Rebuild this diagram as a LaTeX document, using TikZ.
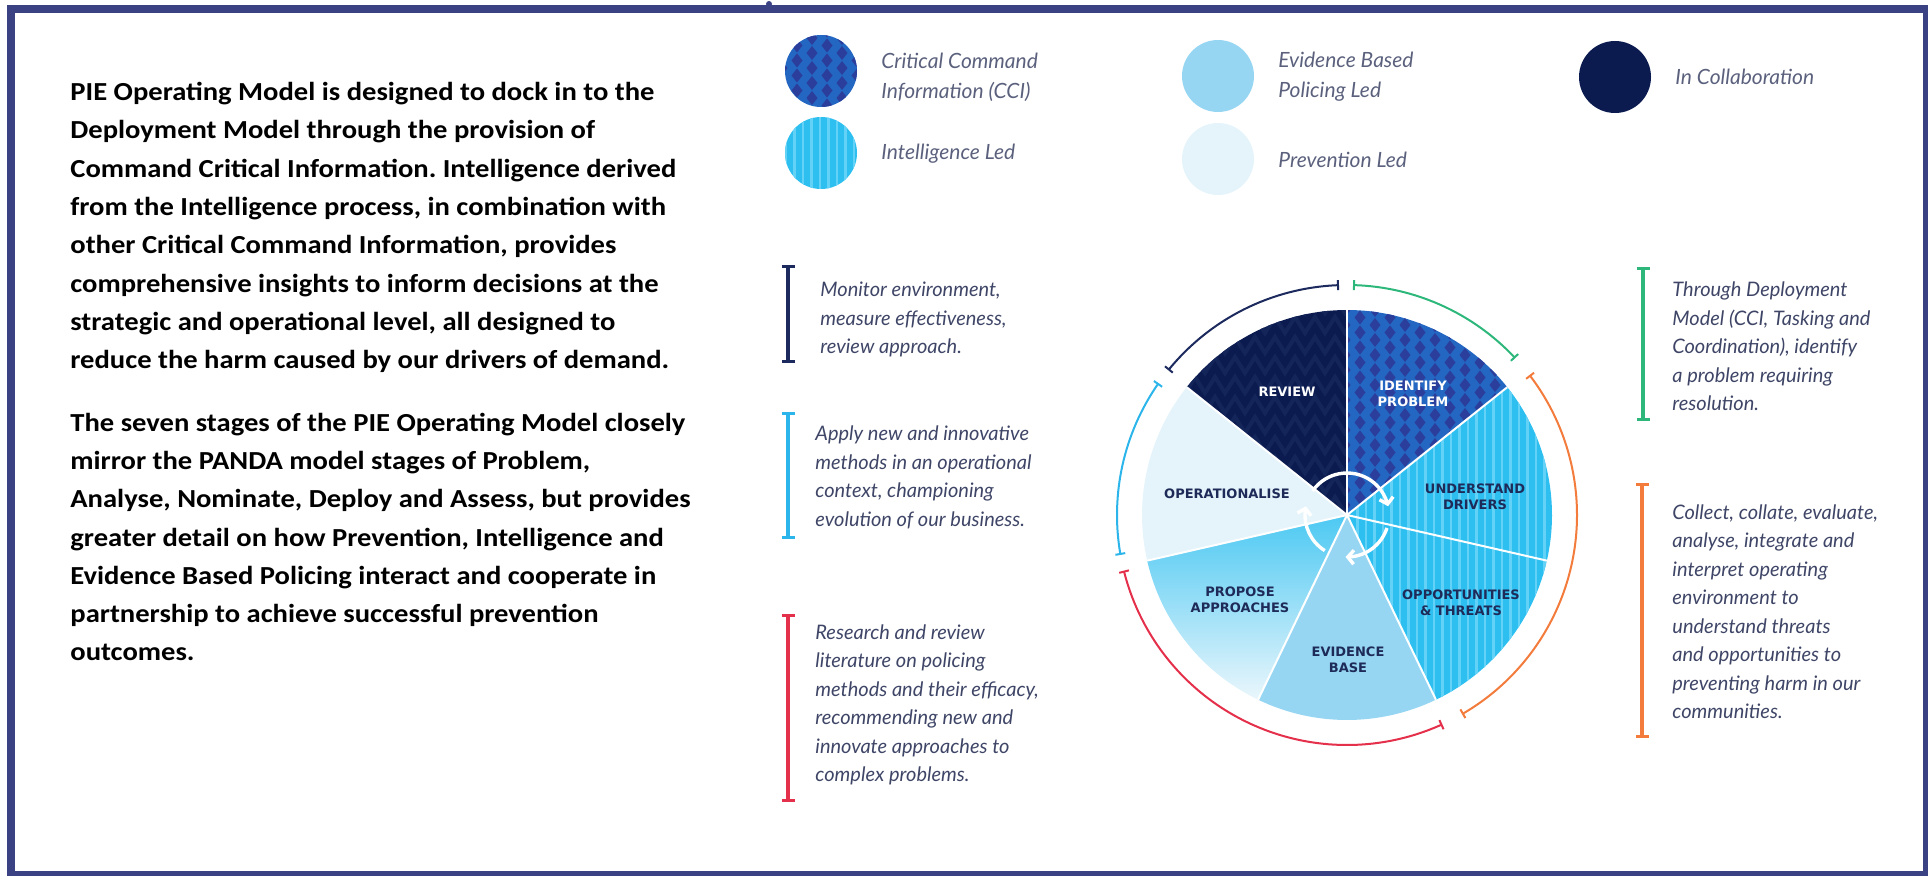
\documentclass[tikz,border=0pt]{standalone}
\usepackage{fontspec}
\setmainfont{Carlito}[FakeStretch=1.1]
\newfontfamily\sidefont{Lato}
\newfontfamily\stagefont{DejaVu Sans}
\usetikzlibrary{arrows.meta,bending,decorations.pathmorphing}
\frenchspacing

\definecolor{framecol}{RGB}{59,66,132}
\definecolor{navyc}{RGB}{11,27,79}
\definecolor{reviewtex}{RGB}{20,37,90}
\definecolor{ccibase}{RGB}{35,103,194}
\definecolor{ccidark}{RGB}{44,62,156}
\definecolor{intelbase}{RGB}{45,191,240}
\definecolor{intelstripe}{RGB}{100,209,246}
\definecolor{evid}{RGB}{150,214,243}
\definecolor{prev}{RGB}{229,244,251}
\definecolor{sidegray}{RGB}{62,69,102}
\definecolor{labnavy}{RGB}{30,42,88}
\definecolor{ringnavy}{RGB}{28,42,94}
\definecolor{ringgreen}{RGB}{45,183,123}
\definecolor{ringorange}{RGB}{243,123,59}
\definecolor{ringred}{RGB}{229,48,76}
\definecolor{ringcyan}{RGB}{43,181,234}

% diamond grid of the CCI colour
\newcommand{\ccidiamonds}[3]{%
  \foreach \i in {0,...,#3}{%
    \foreach \j in {0,...,#3}{%
      \pgfmathsetmacro{\px}{#1+15*\i}%
      \pgfmathsetmacro{\py}{#2+15*\j+7.5*mod(\i,2)}%
      \fill[ccidark] (\px-5.5,\py) -- (\px,\py+7) -- (\px+5.5,\py) -- (\px,\py-7) -- cycle;
    }}}
% vertical stripes of the intelligence colour
\newcommand{\intelstripes}[4]{%
  \foreach \k in {0,...,#4}
    \draw[intelstripe, line width=1.4pt] (#1+8.5*\k,#2) -- (#1+8.5*\k,#3);}

\begin{document}
\begin{tikzpicture}[x=0.5pt, y=0.5pt]
    \tikzset{
        bodytext/.style = {anchor=west, align=left, inner sep=0pt, font=\bfseries\fontsize{13}{19.15}\selectfont},
        sidetext/.style = {anchor=west, align=left, inner sep=0pt, text=sidegray, font=\sidefont\itshape\fontsize{10}{14.25}\selectfont},
        legtext/.style = {anchor=west, align=left, inner sep=0pt, text=sidegray!85, font=\sidefont\itshape\fontsize{10.5}{15}\selectfont},
        legdot/.style = {circle, inner sep=0pt, minimum size=36pt},
        stagelabel/.style = {align=center, inner sep=0pt, font=\stagefont\bfseries\fontsize{6.5}{8}\selectfont},
        bracket/.style = {line width=1.6pt, {Bar[width=6.5pt]}-{Bar[width=6.5pt]}},
        ring/.style = {line width=1pt, {Bar[width=5pt]}-{Bar[width=5pt]}},
        turn/.style = {white, line width=1.7pt, -{Straight Barb[length=3pt,width=7pt]}},
        sep/.style = {white, line width=1pt},
    }
    \useasboundingbox (0,0) rectangle (1928,875);
    %
    \draw[framecol, line width=3.75pt] (11,0.5) rectangle (1927,866);
    \fill[framecol] (769,871) circle[radius=3];
    %
    \node[bodytext] (intro) at (70,647.5) {PIE Operating Model is designed to dock in to the\\
        Deployment Model through the provision of\\
        Command Critical Information. Intelligence derived\\
        from the Intelligence process, in combination with\\
        other Critical Command Information, provides\\
        comprehensive insights to inform decisions at the\\
        strategic and operational level, all designed to\\
        reduce the harm caused by our drivers of demand.};
    \node[bodytext] (stages) at (70,338) {The seven stages of the PIE Operating Model closely\\
        mirror the PANDA model stages of Problem,\\
        Analyse, Nominate, Deploy and Assess, but provides\\
        greater detail on how Prevention, Intelligence and\\
        Evidence Based Policing interact and cooperate in\\
        partnership to achieve successful prevention\\
        outcomes.};
    %
    % legend
    \begin{scope}
        \clip (821,804) circle[radius=36];
        \fill[ccibase] (780,760) rectangle (860,850);
        \ccidiamonds{782}{762}{5}
    \end{scope}
    \begin{scope}
        \clip (821,722) circle[radius=36];
        \fill[intelbase] (780,680) rectangle (860,760);
        \intelstripes{786}{680}{760}{9}
    \end{scope}
    \node[legdot, fill=evid] (dotevid) at (1218,799) {};
    \node[legdot, fill=prev] (dotprev) at (1218,716) {};
    \node[legdot, fill=navyc] (dotcollab) at (1615,798) {};
    \node[legtext] (legcci) at (881,798) {Critical Command\\Information (CCI)};
    \node[legtext] (legintel) at (881,721) {Intelligence Led};
    \node[legtext] (legevid) at (1278,798.5) {Evidence Based\\Policing Led};
    \node[legtext] (legprev) at (1278,715) {Prevention Led};
    \node[legtext] (legcollab) at (1675,798) {In Collaboration};
    %
    % pie of the seven stages
    \coordinate (c) at (1347,360);
    \begin{scope}
        \clip (c) -- ++(90:205) arc[start angle=90, end angle=141.43, radius=205] -- cycle;
        \fill[navyc] (1130,350) rectangle (1350,570);
        \foreach \r in {0,...,10}
            \draw[reviewtex, line width=2pt, decorate, decoration={zigzag, segment length=10pt, amplitude=4pt}] (1130,370+20*\r) -- (1350,370+20*\r);
    \end{scope}
    \begin{scope}
        \clip (c) -- ++(38.57:205) arc[start angle=38.57, end angle=90, radius=205] -- cycle;
        \fill[ccibase] (1340,350) rectangle (1560,570);
        \ccidiamonds{1345}{355}{14}
    \end{scope}
    \begin{scope}
        \clip (c) -- ++(-64.29:205) arc[start angle=-64.29, end angle=38.57, radius=205] -- cycle;
        \fill[intelbase] (1340,150) rectangle (1560,500);
        \intelstripes{1349}{150}{500}{24}
    \end{scope}
    \fill[evid] (c) -- ++(-115.71:205) arc[start angle=-115.71, end angle=-64.29, radius=205] -- cycle;
    \shade[top color=intelbase!85!white, middle color=evid!60!white, bottom color=prev!80!white]
        (c) -- ++(-167.14:205) arc[start angle=-167.14, end angle=-115.71, radius=205] -- cycle;
    \fill[prev] (c) -- ++(141.43:205) arc[start angle=141.43, end angle=192.86, radius=205] -- cycle;
    \foreach \a in {90,38.57,-12.86,-64.29,-115.71,-167.14,141.43}
        \draw[sep] (c) -- ++(\a:205);
    %
    \node[stagelabel, text=white] (lreview) at (1287,483) {REVIEW};
    \node[stagelabel, text=white] (lidentify) at (1413,481) {IDENTIFY\\PROBLEM};
    \node[stagelabel, text=labnavy] (ldrivers) at (1475,378) {UNDERSTAND\\DRIVERS};
    \node[stagelabel, text=labnavy] (lthreats) at (1461,272) {OPPORTUNITIES\\\& THREATS};
    \node[stagelabel, text=labnavy] (levidence) at (1348,215) {EVIDENCE\\BASE};
    \node[stagelabel, text=labnavy] (lpropose) at (1240,275) {PROPOSE\\APPROACHES};
    \node[stagelabel, text=labnavy] (loperational) at (1227,381) {OPERATIONALISE};
    %
    \draw[turn] ([shift={(145:42)}]c) arc[start angle=145, end angle=12, radius=42];
    \draw[turn] ([shift={(-18:42)}]c) arc[start angle=-18, end angle=-92, radius=42];
    \draw[turn] ([shift={(-122:42)}]c) arc[start angle=-122, end angle=-192, radius=42];
    %
    \draw[ring, ringnavy] ([shift={(92:230)}]c) arc[start angle=92, end angle=141, radius=230];
    \draw[ring, ringgreen] ([shift={(43:230)}]c) arc[start angle=43, end angle=88.5, radius=230];
    \draw[ring, ringorange] ([shift={(-60:230)}]c) arc[start angle=-60, end angle=37.5, radius=230];
    \draw[ring, ringred] ([shift={(194:230)}]c) arc[start angle=194, end angle=294.5, radius=230];
    \draw[ring, ringcyan] ([shift={(145:230)}]c) arc[start angle=145, end angle=190, radius=230];
    %
    % brackets beside the texts
    \coordinate (navytop) at (788,610);
    \coordinate (navybot) at (788,512);
    \coordinate (cyantop) at (788,463);
    \coordinate (cyanbot) at (788,336);
    \coordinate (redtop) at (788,261);
    \coordinate (redbot) at (788,73);
    \coordinate (greentop) at (1643,608);
    \coordinate (greenbot) at (1643,454);
    \coordinate (orangetop) at (1642,392);
    \coordinate (orangebot) at (1642,137);
    \draw[bracket, ringnavy] (navytop) -- (navybot);
    \draw[bracket, ringcyan] (cyantop) -- (cyanbot);
    \draw[bracket, ringred] (redtop) -- (redbot);
    \draw[bracket, ringgreen] (greentop) -- (greenbot);
    \draw[bracket, ringorange] (orangetop) -- (orangebot);
    %
    \node[sidetext] (monitor) at (820,555.5) {Monitor environment,\\measure effectiveness,\\review approach.};
    \node[sidetext] (apply) at (815,397.5) {Apply new and innovative\\methods in an operational\\context, championing\\evolution of our business.};
    \node[sidetext] (research) at (815,170) {Research and review\\literature on policing\\methods and their efficacy,\\recommending new and\\innovate approaches to\\complex problems.};
    \node[sidetext] (through) at (1672,528.5) {Through Deployment\\Model (CCI, Tasking and\\Coordination), identify\\a problem requiring\\resolution.};
    \node[sidetext] (collect) at (1672,263.5) {Collect, collate, evaluate,\\analyse, integrate and\\interpret operating\\environment to\\understand threats\\and opportunities to\\preventing harm in our\\communities.};
\end{tikzpicture}
\end{document}
